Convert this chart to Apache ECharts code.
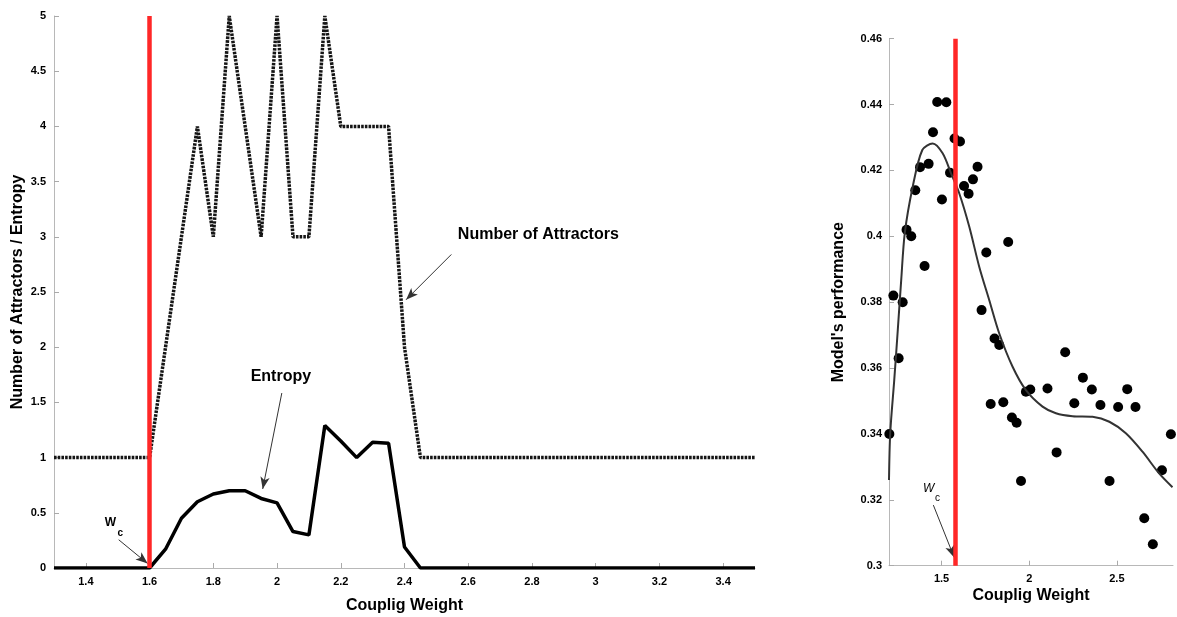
<!DOCTYPE html>
<html>
<head>
<meta charset="utf-8">
<script src="https://cdn.jsdelivr.net/npm/echarts@6/dist/echarts.min.js"></script>
<style>
html,body{margin:0;padding:0;background:#fff;}
#chart{width:1177px;height:617px;}
</style>
</head>
<body>
<div id="chart"></div>
<script>
// ---- Left panel data ----
const leftXTicks = [1.4, 1.6, 1.8, 2, 2.2, 2.4, 2.6, 2.8, 3, 3.2, 3.4];
const attrX = [1.3, 1.6, 1.65, 1.7, 1.75, 1.8, 1.85, 1.9, 1.95, 2.0, 2.05, 2.1, 2.15, 2.2, 2.25, 2.3, 2.35, 2.4, 2.45, 3.5];
const attrY = [1, 1, 2, 3, 4, 3, 5, 4, 3, 5, 3, 3, 5, 4, 4, 4, 4, 2, 1, 1];
const entX  = [1.3, 1.6, 1.65, 1.7, 1.75, 1.8, 1.85, 1.9, 1.95, 2.0, 2.05, 2.1, 2.15, 2.2, 2.25, 2.3, 2.35, 2.4, 2.45, 3.5];
const entY  = [0, 0, 0.17, 0.45, 0.6, 0.67, 0.7, 0.7, 0.63, 0.59, 0.33, 0.3, 1.29, 1.15, 1.0, 1.14, 1.13, 0.19, 0, 0];
const leftCritical = 1.6;

// ---- Right panel data ----
const rightXTicks = [1.5, 2, 2.5];
const rightYTicks = [0.3, 0.32, 0.34, 0.36, 0.38, 0.4, 0.42, 0.44, 0.46];
const perfX = [1.202, 1.225, 1.255, 1.278, 1.30, 1.327, 1.35, 1.377, 1.403, 1.426, 1.451, 1.475, 1.502, 1.527, 1.548, 1.574, 1.605, 1.628, 1.654, 1.679, 1.705, 1.728, 1.755, 1.78, 1.802, 1.829, 1.852, 1.88, 1.901, 1.928, 1.953, 1.981, 2.006, 2.104, 2.156, 2.205, 2.257, 2.306, 2.357, 2.406, 2.458, 2.507, 2.559, 2.606, 2.656, 2.705, 2.757, 2.808];
const perfY = [0.340, 0.382, 0.363, 0.380, 0.402, 0.400, 0.414, 0.421, 0.391, 0.422, 0.4316, 0.4408, 0.4112, 0.4407, 0.4193, 0.4297, 0.4288, 0.4153, 0.4129, 0.4173, 0.4211, 0.3776, 0.3951, 0.3491, 0.369, 0.367, 0.3496, 0.3983, 0.345, 0.3434, 0.3257, 0.3528, 0.3535, 0.3538, 0.3344, 0.3648, 0.3493, 0.3571, 0.3535, 0.3488, 0.3257, 0.3482, 0.3536, 0.3482, 0.3144, 0.3065, 0.329, 0.3399];
const fitX = [1.2, 1.207, 1.23, 1.25, 1.27, 1.29, 1.335, 1.39, 1.449, 1.506, 1.554, 1.601, 1.658, 1.715, 1.772, 1.829, 1.905, 1.981, 2.076, 2.152, 2.247, 2.361, 2.457, 2.551, 2.646, 2.741, 2.817];
const fitY = [0.326, 0.3402, 0.3564, 0.3715, 0.387, 0.401, 0.415, 0.4262, 0.4282, 0.4252, 0.4191, 0.413, 0.4029, 0.3907, 0.3806, 0.3705, 0.3604, 0.3533, 0.3483, 0.3463, 0.3454, 0.3452, 0.3437, 0.3402, 0.3346, 0.328, 0.3238];
const rightCritical = 1.58;

const FONT = '"Liberation Sans", Arial, sans-serif';
const pair = (xs, ys) => xs.map((x, i) => [x, ys[i]]);

const ARROW_STYLE = {color: '#333', width: 1, type: 'solid'};
const RED_STYLE = {color: '#ff2727', width: 4.5, type: 'solid'};
const arrowLine = (from, to) => [{coord: from, symbol: 'none', lineStyle: ARROW_STYLE}, {coord: to, symbol: 'arrow'}];
const redLine = (x, y0, y1) => [{coord: [x, y0], symbol: 'none', lineStyle: RED_STYLE}, {coord: [x, y1], symbol: 'none'}];
const textPoint = (coord, text, size, weight, style) => ({
  coord: coord, value: text,
  label: {show: true, position: 'inside', formatter: text, fontSize: size, fontWeight: weight, fontStyle: style || 'normal', color: '#000', fontFamily: FONT}
});

const chart = echarts.init(document.getElementById('chart'), null, {renderer: 'canvas'});

const axisCommon = {
  splitLine: {show: false},
  nameMoveOverlap: false,
  axisLine: {show: true, lineStyle: {color: '#b8b8b8', width: 1}},
  axisTick: {show: true, inside: true, length: 5, lineStyle: {color: '#aaa'}},
  axisLabel: {color: '#000', fontWeight: 'bold', fontSize: 11, fontFamily: FONT},
  nameTextStyle: {color: '#000', fontWeight: 'bold', fontSize: 16, fontFamily: FONT}
};

chart.setOption({
  animation: false,
  backgroundColor: '#fff',
  grid: [
    {left: 54, top: 16, width: 701, height: 552, containLabel: false, outerBoundsMode: 'none'},
    {left: 889, top: 38.7, width: 284, height: 527, containLabel: false, outerBoundsMode: 'none'}
  ],
  xAxis: [
    Object.assign({}, axisCommon, {
      type: 'value', gridIndex: 0, min: 1.3, max: 3.5,
      name: 'Couplig Weight', nameLocation: 'middle', nameGap: 30,
      axisTick: Object.assign({}, axisCommon.axisTick, {customValues: leftXTicks}),
      axisLabel: Object.assign({}, axisCommon.axisLabel, {customValues: leftXTicks, margin: 8})
    }),
    Object.assign({}, axisCommon, {
      type: 'value', gridIndex: 1, min: 1.2, max: 2.82,
      name: 'Couplig Weight', nameLocation: 'middle', nameGap: 22,
      axisTick: Object.assign({}, axisCommon.axisTick, {customValues: rightXTicks}),
      axisLabel: Object.assign({}, axisCommon.axisLabel, {customValues: rightXTicks, margin: 8})
    })
  ],
  yAxis: [
    Object.assign({}, axisCommon, {
      type: 'value', gridIndex: 0, min: 0, max: 5, interval: 0.5,
      name: 'Number of Attractors / Entropy', nameLocation: 'middle', nameGap: 28,
      axisLabel: Object.assign({}, axisCommon.axisLabel, {margin: 8})
    }),
    Object.assign({}, axisCommon, {
      type: 'value', gridIndex: 1, min: 0.3, max: 0.46,
      name: "Model's performance", nameLocation: 'middle', nameGap: 42,
      axisTick: Object.assign({}, axisCommon.axisTick, {customValues: rightYTicks}),
      axisLabel: Object.assign({}, axisCommon.axisLabel, {customValues: rightYTicks, margin: 7,
        formatter: v => String(Math.round(v * 100) / 100)})
    })
  ],
  series: [
    {
      type: 'line', xAxisIndex: 0, yAxisIndex: 0, data: pair(attrX, attrY),
      showSymbol: false, symbol: 'none',
      lineStyle: {color: '#151515', width: 3.5, type: [2.6, 1.1]},
      z: 3,
      markPoint: {
        symbol: 'circle', symbolSize: 1, itemStyle: {color: 'rgba(0,0,0,0)'},
        data: [textPoint([2.82, 3.02], 'Number of Attractors', 16, 'bold')]
      },
      markLine: {
        silent: true, symbolSize: [7, 12], label: {show: false}, z: 10,
        data: [
          arrowLine([2.547, 2.84], [2.405, 2.43]),
          redLine(leftCritical, 0, 5)
        ]
      }
    },
    {
      type: 'line', xAxisIndex: 0, yAxisIndex: 0, data: pair(entX, entY),
      showSymbol: false, symbol: 'none',
      lineStyle: {color: '#000', width: 3.5},
      z: 4,
      markPoint: {
        symbol: 'circle', symbolSize: 1, itemStyle: {color: 'rgba(0,0,0,0)'},
        data: [
          textPoint([2.012, 1.735], 'Entropy', 16, 'bold'),
          textPoint([1.477, 0.413], 'W', 12, 'bold'),
          textPoint([1.508, 0.317], 'c', 10, 'bold')
        ]
      },
      markLine: {
        silent: true, symbolSize: [7, 12], label: {show: false},
        data: [
          arrowLine([2.015, 1.585], [1.955, 0.716]),
          arrowLine([1.503, 0.256], [1.594, 0.04])
        ]
      }
    },
    {
      type: 'scatter', xAxisIndex: 1, yAxisIndex: 1, data: pair(perfX, perfY),
      symbol: 'circle', symbolSize: 10,
      itemStyle: {color: '#000', opacity: 1}, z: 3
    },
    {
      type: 'line', xAxisIndex: 1, yAxisIndex: 1, data: pair(fitX, fitY),
      showSymbol: false, symbol: 'none', smooth: 0.3,
      lineStyle: {color: '#333', width: 2},
      z: 4,
      markPoint: {
        symbol: 'circle', symbolSize: 1, itemStyle: {color: 'rgba(0,0,0,0)'},
        data: [
          textPoint([1.426, 0.3235], 'W', 12, 'normal', 'italic'),
          textPoint([1.477, 0.3205], 'c', 10, 'normal')
        ]
      },
      markLine: {
        silent: true, symbolSize: [7, 12], label: {show: false}, z: 10,
        data: [
          arrowLine([1.453, 0.3184], [1.572, 0.3025]),
          redLine(rightCritical, 0.3, 0.46)
        ]
      }
    }
  ]
});
</script>
</body>
</html>
